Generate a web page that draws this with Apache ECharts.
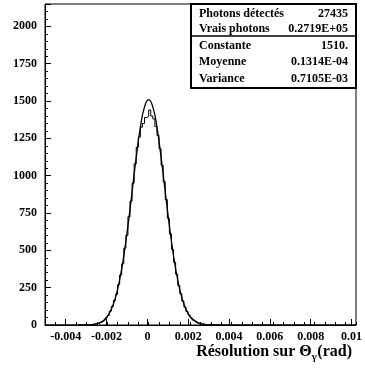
<!DOCTYPE html>
<html><head><meta charset="utf-8">
<script src="https://cdn.jsdelivr.net/npm/echarts@6/dist/echarts.min.js"></script>
<style>html,body{margin:0;padding:0;background:#fff}#c{width:365px;height:368px}</style>
</head><body><div id="c"></div>
<script>
// Histogram: bins of width 0.0001 starting at -0.003 (left edges)
const histStart = -0.003;
const binWidth = 0.0001;
const histValues = [
  1,2,3,5,8,11,17,23,33,47,64,92,125,165,205,270,335,410,515,600,725,830,950,1080,1190,1260,1325,1350,1390,1395,
  1440,1400,1380,1330,1270,1180,1070,960,840,715,610,505,420,340,265,210,160,120,90,66,48,34,24,16,11,7,5,3,2,1
];
// Fitted curve points
const curveX = [-0.0034,-0.0032,-0.0030,-0.0028,-0.0026,-0.0024,-0.0022,-0.0020,-0.0018,-0.0016,-0.0014,-0.0012,-0.0010,-0.0008,-0.0006,-0.0004,-0.0002,0,
  0.0002,0.0004,0.0006,0.0008,0.0010,0.0012,0.0014,0.0016,0.0018,0.0020,0.0022,0.0024,0.0026,0.0028,0.0030,0.0032,0.0034];
const curveY = [0.1,0.3,0.9,2.4,6,13,28,56,105,184,302,463,664,892,1123,1324,1461,1510,
  1461,1324,1123,892,664,463,302,184,105,56,28,13,6,2.4,0.9,0.3,0.1];
const xMin = -0.005, xMax = 0.01;
const yMax = 2150;
const statsLabels = ['Photons détectés','Vrais photons','Constante','Moyenne','Variance'];
const statsValues = ['27435','0.2719E+05','1510.','0.1314E-04','0.7105E-03'];
const titleParts = ['Résolution sur Θ','γ','(rad)'];

const FONT = '"Liberation Serif","DejaVu Serif",serif';
const histData = [[xMin,0]];
histValues.forEach((v,i)=>histData.push([+(histStart+i*binWidth).toFixed(5), v]));
histData.push([+(histStart+histValues.length*binWidth).toFixed(5), 0]);
histData.push([xMax, 0]);
const curveData = curveX.map((x,i)=>[x,curveY[i]]);

const L=45, R=9, T=4, B=43;
const W=365-L-R;
const left2 = L + W*(0.001/(xMax-xMin));

const chart = echarts.init(document.getElementById('c'),null,{renderer:'canvas'});
const rowY=[14,29,46,62,79];
const graphics=[
  {type:'rect',shape:{x:191,y:4,width:165,height:84},style:{fill:'#fff',stroke:'#000',lineWidth:2},z:100},
  {type:'line',shape:{x1:191,y1:36,x2:356,y2:36},style:{stroke:'#000',lineWidth:1.5},z:101}
];
statsLabels.forEach((t,i)=>{
  graphics.push({type:'text',x:199,y:rowY[i],style:{text:t,font:'bold 12px '+FONT,fill:'#000',textVerticalAlign:'middle',textAlign:'left'},z:102});
  graphics.push({type:'text',x:348,y:rowY[i],style:{text:statsValues[i],font:'bold 12px '+FONT,fill:'#000',textVerticalAlign:'middle',textAlign:'right'},z:102});
});
// axis title composed of parts (subscript gamma)
const cv=document.createElement('canvas').getContext('2d');
const fMain='bold 16px '+FONT, fSub='bold 11px '+FONT;
cv.font=fMain; const w0=cv.measureText(titleParts[0]).width, w2=cv.measureText(titleParts[2]).width;
cv.font=fSub; const w1=cv.measureText(titleParts[1]).width;
const titleRight=352, baseY=360;
const x2=titleRight-w2, x1=x2-w1-0.5, x0=x1-w0;
graphics.push({type:'text',x:x0,y:baseY,style:{text:titleParts[0],font:fMain,fill:'#000',textVerticalAlign:'bottom',textAlign:'left'}});
graphics.push({type:'text',x:x1,y:baseY+3,style:{text:titleParts[1],font:fSub,fill:'#000',textVerticalAlign:'bottom',textAlign:'left'}});
graphics.push({type:'text',x:x2,y:baseY,style:{text:titleParts[2],font:fMain,fill:'#000',textVerticalAlign:'bottom',textAlign:'left'}});

chart.setOption({
  animation:false,
  backgroundColor:'#fff',
  grid:[
    {left:L,right:R,top:T,bottom:B,show:true,borderColor:'#000',borderWidth:1},
    {left:left2,right:R,top:T,bottom:B,show:false}
  ],
  xAxis:[
    {type:'value',gridIndex:0,min:xMin,max:xMax,interval:0.0005,
      axisLine:{onZero:false,lineStyle:{color:'#000',width:1}},axisTick:{inside:true,length:3,lineStyle:{color:'#000'}},
      axisLabel:{show:false},splitLine:{show:false}},
    {type:'value',gridIndex:1,min:-0.004,max:xMax,interval:0.002,
      axisLine:{show:false,onZero:false},axisTick:{inside:true,length:6,lineStyle:{color:'#000'}},
      axisLabel:{margin:6,fontFamily:FONT,fontWeight:'bold',fontSize:12,color:'#000',
        formatter:v=>{ if(Math.abs(v)<1e-12) return '0'; return String(+v.toFixed(3)); }},
      splitLine:{show:false}}
  ],
  yAxis:[
    {type:'value',gridIndex:0,min:0,max:yMax,interval:250,
      axisLine:{show:true,onZero:false,lineStyle:{color:'#000',width:1}},
      axisTick:{show:true,inside:true,length:6,lineStyle:{color:'#000'}},
      minorTick:{show:true,splitNumber:5,length:3,lineStyle:{color:'#000'}},
      axisLabel:{margin:8,fontFamily:FONT,fontWeight:'bold',fontSize:12,color:'#000',showMaxLabel:false,
        formatter:v=>String(v)},
      splitLine:{show:false}},
    {type:'value',gridIndex:1,min:0,max:yMax,show:false,axisLine:{onZero:false}}
  ],
  series:[
    {type:'line',xAxisIndex:0,yAxisIndex:0,data:histData,step:'end',symbol:'none',
      lineStyle:{color:'#000',width:1},z:3},
    {type:'line',xAxisIndex:0,yAxisIndex:0,data:curveData,smooth:true,symbol:'none',
      lineStyle:{color:'#000',width:1.3},z:4}
  ],
  graphic:graphics
});
</script></body></html>
